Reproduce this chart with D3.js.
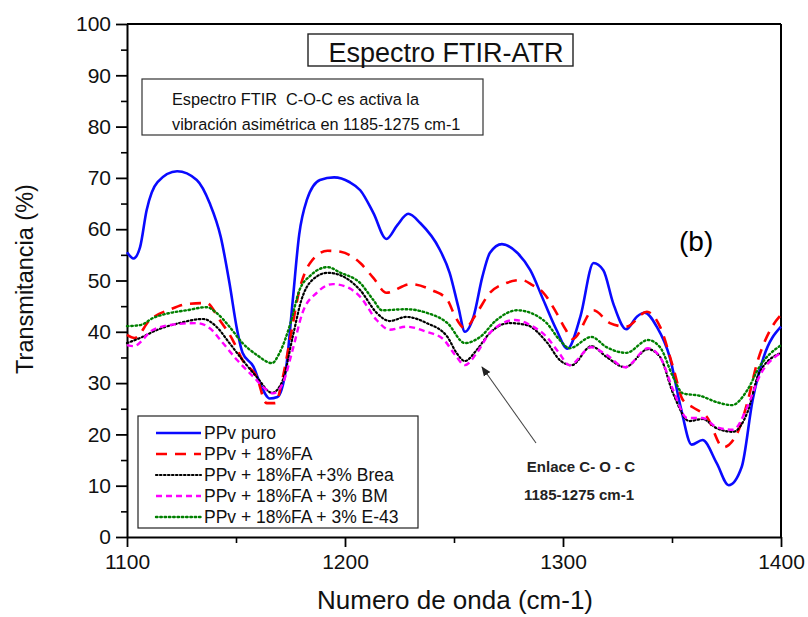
<!DOCTYPE html>
<html>
<head>
<meta charset="utf-8">
<script src="https://cdn.jsdelivr.net/npm/d3@7"></script>
<style>
  body { margin: 0; background: #fff; }
  text { font-family: "Liberation Sans", Arial, sans-serif; }
</style>
</head>
<body>
<svg class="ftir" width="808" height="617"></svg>
<script>
// [wavenumber, transmitance]
var puro = [[1100,55.5],[1103,54.3],[1106,56.5],[1109,63.7],[1114,69.2],[1123,71.3],[1132,69.6],[1138,65],[1143,58.5],
  [1147,49.5],[1150.5,40.4],[1153,35.9],[1158,33.2],[1161,30],[1165.5,27],[1169,27.3],[1173,33],[1176,46],[1179,59],
  [1182.5,65.7],[1188.5,69.6],[1195,70.1],[1202,69.2],[1207,67.6],[1213,63.2],[1219,58.1],[1224,60.8],[1229,63],
  [1234.5,61.2],[1243.5,56],[1248,51.5],[1252,44.8],[1255,40],[1259,43],[1263,50.7],[1266.5,55.4],[1272,57.1],
  [1279,55.4],[1285,52],[1291,46.2],[1297,40.4],[1302,36.7],[1308,43],[1314,53.4],[1318.5,52],[1323,45.6],
  [1329,40.5],[1334,43],[1337.5,43.7],[1343,41],[1349,35],[1354,25.3],[1359,18],[1364,18.9],[1370.5,14.4],
  [1376,10.1],[1382,13.7],[1387,26.7],[1392,35],[1400,41]];

var fa = [[1100,39.4],[1103.5,38.8],[1110.5,42.3],[1120,44.4],[1127.5,45.4],[1136.5,45.6],[1142.5,42.3],[1148.5,38.4],
  [1153,34.5],[1159.5,31.2],[1164,26.1],[1168,26.1],[1171.5,31.2],[1175,39],[1179,48],[1184,53.4],[1192,55.8],
  [1198,55.6],[1207,53.4],[1213,50.5],[1219,47.6],[1230,49.3],[1240,48.1],[1247,46.2],[1250.5,43],[1255,40.7],
  [1260.5,43.7],[1266.5,47.6],[1274,49.5],[1281,50.1],[1286,49.1],[1291,47.6],[1297,43.7],[1301,40.6],[1304.5,38.6],
  [1314,44.2],[1321.5,41.7],[1329,41],[1338.5,43.9],[1344.5,41],[1350.5,33.1],[1355,26.7],[1359.5,25.3],[1366,23.4],
  [1373.5,17.5],[1380,20.3],[1384.5,26.1],[1389,33.9],[1395,40.3],[1400,43.3]];

var brea = [[1100,37.8],[1106,38.8],[1114,40.4],[1124,41.7],[1135,42.5],[1141,41],[1147,37.8],[1153,34.5],[1159.5,31.2],
  [1166.5,28.1],[1171.5,30.6],[1176,39],[1180,46.2],[1185,50.1],[1192,51.5],[1198,51],[1207,48.1],[1214.5,43.7],
  [1220.5,42.1],[1228,42.9],[1237.5,41.7],[1247,39],[1251,36],[1255,34.3],[1260.5,36.5],[1266.5,39.8],[1275.5,41.7],
  [1283.5,41.3],[1292.5,38],[1299,34.3],[1304,33.5],[1313,37.2],[1320,35.1],[1328.5,33.1],[1339,36.6],[1344.5,35.1],
  [1350.5,28],[1358,22.6],[1364,23],[1370.5,21.2],[1378,20.5],[1384.5,24.2],[1390,32],[1400,35.9]];

var bm = [[1100,37.4],[1103,37.2],[1112,40.4],[1123,41.5],[1132,41.7],[1138,40.7],[1144,37.8],[1150.5,34.5],[1158,31.2],
  [1164,28.7],[1167,28],[1171.5,30],[1176,36.5],[1180.5,43.7],[1187,47.6],[1194.5,49.3],[1202,48.5],[1207,46.8],
  [1214.5,42.3],[1220.5,40.4],[1228,41],[1237.5,40],[1245,38.6],[1250.5,35.5],[1255,33.5],[1260.5,35.9],[1266.5,39.8],
  [1278,42.3],[1285,41.3],[1292.5,39],[1298,36],[1303,33.5],[1313,37],[1320,35.5],[1328.5,33.1],[1339,36.8],
  [1344.5,35.1],[1350.5,28.7],[1357,23.2],[1364,23.2],[1370.5,21.4],[1378,20.9],[1384.5,25.3],[1390,31.2],[1400,35.9]];

var e43 = [[1100,41.1],[1106,41.3],[1112,42.7],[1120,43.7],[1127.5,44.2],[1136.5,44.8],[1141,43.7],[1147,41],[1153,37.8],
  [1159.5,35.5],[1166.5,33.9],[1170,35.9],[1175,41.7],[1179,48],[1184,50.9],[1192,52.6],[1198,51.5],[1207,49.5],
  [1213,46.2],[1217,44.2],[1228,44.4],[1237.5,43.7],[1247,41.7],[1255,37.8],[1262,39],[1269.5,42.3],[1279,44.2],
  [1285,43.7],[1292.5,41.7],[1298.5,38.4],[1303,36.8],[1313,39],[1320,37],[1329,35.9],[1339,38.4],[1344.5,37],
  [1350.5,31.2],[1355,28],[1363,27.5],[1370.5,26.3],[1377.5,25.7],[1384.5,28.6],[1390,33.1],[1400,37.4]];

var names = ["PPv puro", "PPv + 18%FA", "PPv + 18%FA +3% Brea", "PPv + 18%FA + 3% BM", "PPv + 18%FA + 3% E-43"];
var yTicks = [0, 10, 20, 30, 40, 50, 60, 70, 80, 90, 100];
var xTicks = [1100, 1200, 1300, 1400];

var series = [
  { name: names[0], data: puro, color: "#0a0aff", width: 2.6, dash: null },
  { name: names[1], data: fa, color: "#ff0000", width: 2.6, dash: "11,8" },
  { name: names[2], data: brea, color: "#000000", width: 2.2, dash: "1.5,2.5", cap: "round" },
  { name: names[3], data: bm, color: "#ff00ff", width: 2.4, dash: "6,4" },
  { name: names[4], data: e43, color: "#008000", width: 2.4, dash: "1.5,2.8", cap: "round" }
];

var svg = d3.select(".ftir"),
  margin = { top: 24, right: 27, bottom: 80, left: 127 },
  width = +svg.attr("width") - margin.left - margin.right,
  height = +svg.attr("height") - margin.top - margin.bottom;

var x = d3.scaleLinear().domain([1100, 1400]).range([0, width]),
  y = d3.scaleLinear().domain([0, 100]).range([height, 0]);

var g = svg.append("g").attr("transform", "translate(" + margin.left + "," + margin.top + ")");

var line = d3.line()
  .x(function (d) { return x(d[0]); })
  .y(function (d) { return y(d[1]); })
  .curve(d3.curveMonotoneX);

// frame on top and right
g.append("line").attr("x1", 0).attr("x2", width).attr("y1", 0).attr("y2", 0)
  .attr("stroke", "#000").attr("stroke-width", 2);
g.append("line").attr("x1", width).attr("x2", width).attr("y1", 0).attr("y2", height)
  .attr("stroke", "#000").attr("stroke-width", 2);

// minor ticks
g.append("g").call(d3.axisLeft(y).tickValues(d3.range(5, 100, 10)).tickSize(6).tickFormat(""))
  .call(function (a) { a.select(".domain").remove(); a.selectAll("line").attr("stroke-width", 1.6); });
g.append("g").attr("transform", "translate(0," + height + ")")
  .call(d3.axisBottom(x).tickValues([1150, 1250, 1350]).tickSize(6).tickFormat(""))
  .call(function (a) { a.select(".domain").remove(); a.selectAll("line").attr("stroke-width", 1.6); });

// major axes
var yAxis = g.append("g").call(d3.axisLeft(y).tickValues(yTicks).tickSize(11).tickSizeOuter(0).tickPadding(5));
var xAxis = g.append("g").attr("transform", "translate(0," + height + ")")
  .call(d3.axisBottom(x).tickValues(xTicks).tickFormat(d3.format("d")).tickSize(10).tickSizeOuter(0).tickPadding(7));

[yAxis, xAxis].forEach(function (a) {
  a.select(".domain").attr("stroke-width", 2);
  a.selectAll(".tick line").attr("stroke-width", 1.8);
  a.selectAll("text").attr("font-size", 21).attr("fill", "#111")
    .attr("font-family", "'Liberation Sans', Arial, sans-serif");
});

// curves
series.forEach(function (s) {
  g.append("path")
    .datum(s.data)
    .attr("d", line)
    .attr("fill", "none")
    .attr("stroke", s.color)
    .attr("stroke-width", s.width)
    .attr("stroke-dasharray", s.dash)
    .attr("stroke-linecap", s.cap || "butt");
});

// axis titles
svg.append("text")
  .attr("transform", "translate(33,279) rotate(-90)")
  .attr("text-anchor", "middle")
  .attr("font-size", 23.5).attr("fill", "#111")
  .text("Transmitancia (%)");

svg.append("text")
  .attr("x", 455).attr("y", 609)
  .attr("text-anchor", "middle")
  .attr("font-size", 26).attr("fill", "#111")
  .text("Numero de onda (cm-1)");

// title box
svg.append("rect").attr("x", 308).attr("y", 34).attr("width", 265).attr("height", 32)
  .attr("fill", "#fff").attr("stroke", "#222").attr("stroke-width", 1.4);
svg.append("text").attr("x", 446).attr("y", 62).attr("text-anchor", "middle")
  .attr("font-size", 27).attr("fill", "#111").text("Espectro FTIR-ATR");

// note box
svg.append("rect").attr("x", 142).attr("y", 79).attr("width", 341).attr("height", 56)
  .attr("fill", "#fff").attr("stroke", "#333").attr("stroke-width", 1.2);
svg.append("text").attr("x", 172).attr("y", 105).attr("font-size", 16.3).attr("fill", "#111")
  .attr("xml:space", "preserve").text("Espectro FTIR  C-O-C es activa la");
svg.append("text").attr("x", 172).attr("y", 130).attr("font-size", 16.3).attr("fill", "#111")
  .text("vibración asimétrica en 1185-1275 cm-1");

// (b)
svg.append("text").attr("x", 679).attr("y", 251)
  .attr("font-family", "'Liberation Serif', 'Times New Roman', serif")
  .attr("font-size", 28).text("(b)");

// arrow annotation
svg.append("defs").append("marker")
  .attr("id", "head").attr("viewBox", "0 0 10 10").attr("refX", 9).attr("refY", 5)
  .attr("markerWidth", 9).attr("markerHeight", 9).attr("orient", "auto")
  .append("path").attr("d", "M0,1 L10,5 L0,9 Z").attr("fill", "#222");
svg.append("line").attr("x1", 536).attr("y1", 443).attr("x2", 482).attr("y2", 367)
  .attr("stroke", "#444").attr("stroke-width", 1.1).attr("marker-end", "url(#head)");

svg.append("text").attr("x", 581).attr("y", 472).attr("text-anchor", "middle")
  .attr("font-family", "'Liberation Sans Narrow', 'Liberation Sans', sans-serif")
  .attr("font-weight", "bold").attr("font-size", 15).attr("fill", "#222")
  .attr("xml:space", "preserve").text("Enlace C- O - C");
svg.append("text").attr("x", 579).attr("y", 500).attr("text-anchor", "middle")
  .attr("font-family", "'Liberation Sans Narrow', 'Liberation Sans', sans-serif")
  .attr("font-weight", "bold").attr("font-size", 15).attr("fill", "#222")
  .text("1185-1275 cm-1");

// legend
var legend = svg.append("g").attr("transform", "translate(138,416)");
legend.append("rect").attr("width", 280).attr("height", 112)
  .attr("fill", "#fff").attr("stroke", "#222").attr("stroke-width", 1.2);
series.forEach(function (s, i) {
  var ly = 17 + i * 21;
  legend.append("line").attr("x1", 18).attr("x2", 63).attr("y1", ly).attr("y2", ly)
    .attr("stroke", s.color).attr("stroke-width", s.width)
    .attr("stroke-dasharray", s.dash).attr("stroke-linecap", s.cap || "butt");
  legend.append("text").attr("x", 66).attr("y", ly + 6)
    .attr("font-size", 17.5).attr("fill", "#111").text(s.name);
});
</script>
</body>
</html>
